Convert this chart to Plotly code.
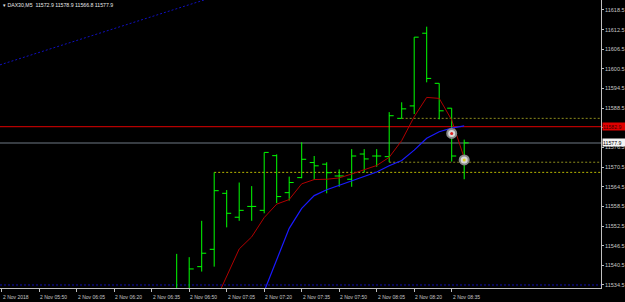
import plotly.graph_objects as go
import pandas as pd

# ---------------- data ----------------
symbol_header = "▾ DAX30,M5  11572.9 11578.9 11566.8 11577.9"
bar_times = list(pd.date_range("2018-11-02 06:45", periods=24, freq="5min"))
opens  = [11528.0, 11531.0, 11540.1, 11545.4, 11562.5, 11555.2, 11558.5, 11557.3,
          11574.0, 11562.7, 11567.3, 11571.9, 11571.4, 11567.8, 11566.8, 11574.5,
          11573.9, 11573.7, 11585.4, 11589.2, 11611.4, 11596.1, 11588.5, 11572.9]
highs  = [11544.0, 11543.0, 11554.1, 11568.9, 11563.5, 11565.8, 11564.7, 11575.0,
          11574.4, 11567.6, 11578.1, 11573.9, 11572.0, 11569.8, 11576.0, 11576.0,
          11576.0, 11587.3, 11590.3, 11610.2, 11613.4, 11596.1, 11588.5, 11578.9]
lows   = [11525.0, 11529.0, 11538.6, 11540.1, 11552.1, 11554.1, 11554.1, 11556.4,
          11559.5, 11560.3, 11567.1, 11566.6, 11562.5, 11564.5, 11564.5, 11568.9,
          11570.6, 11572.0, 11585.4, 11586.7, 11596.4, 11585.1, 11572.2, 11566.8]
closes = [11532.0, 11539.4, 11544.2, 11563.3, 11556.4, 11557.3, 11558.5, 11575.0,
          11561.5, 11565.8, 11572.9, 11570.9, 11568.8, 11567.8, 11573.9, 11573.0,
          11573.9, 11586.2, 11588.3, 11610.2, 11597.6, 11587.7, 11573.9, 11577.9]

# moving averages (values from bar index 2 / 6 onwards)
ma_red_start = 2
ma_red = [11520.5, 11528.9, 11537.3, 11545.5, 11549.2, 11555.1, 11559.2, 11560.6,
          11565.4, 11566.7, 11566.8, 11567.2, 11568.4, 11569.8, 11571.0, 11573.5,
          11578.6, 11585.9, 11591.8, 11591.5, 11584.9, 11573.3]
ma_blue_start = 6
ma_blue = [11523.0, 11532.7, 11542.1, 11551.8, 11557.9, 11561.8, 11563.6, 11564.9,
           11566.4, 11567.6, 11569.0, 11570.9, 11572.5, 11575.7, 11579.3, 11581.3,
           11582.4, 11583.1]

# horizontal levels
red_level = 11582.9
bid_price = 11577.9
blue_level = 11534.5
yellow_levels = [11568.9, 11572.0, 11585.4]
yellow_start_idx = [3, 17, 18]
yellow_colors = ["#b8b800", "#8c8c1c", "#8c8c1c"]

# trendline anchors
trend_times = ["2018-11-02 05:35", "2018-11-02 07:05"]
trend_prices = [11601.9, 11623.75]

# order markers
marker_idx = [22, 23]
marker_prices = [11580.8, 11572.7]
marker_dots = ["#e02020", "#e0d020"]

# axes
y_ticks = [11534.5 + 6 * k for k in range(15)]
y_hidden_tick = 11582.5   # covered by the red level label
x_label_times = list(pd.date_range("2018-11-02 05:35", "2018-11-02 08:35", freq="15min"))
x_label_texts = ["2 Nov 2018"] + [t.strftime("2 Nov %H:%M") for t in x_label_times[1:]]

# ---------------- figure ----------------
step = pd.Timedelta(minutes=5)
x0 = bar_times[0] - step * 14.136
x1 = bar_times[0] + step * 33.944
y_range = [11533.58, 11621.55]

fig = go.Figure()

fig.add_trace(go.Ohlc(
    x=bar_times, open=opens, high=highs, low=lows, close=closes,
    increasing=dict(line=dict(color="#00ff00", width=1)),
    decreasing=dict(line=dict(color="#00ff00", width=1)),
    tickwidth=0.36, hoverinfo="skip", showlegend=False,
))

fig.add_trace(go.Scatter(
    x=bar_times[ma_red_start:], y=ma_red, mode="lines",
    line=dict(color="#b00000", width=1), hoverinfo="skip", showlegend=False))
fig.add_trace(go.Scatter(
    x=bar_times[ma_blue_start:], y=ma_blue, mode="lines",
    line=dict(color="#1a1aff", width=1.2), hoverinfo="skip", showlegend=False))

# trendline (ray) – extend using anchors
tt = [pd.Timestamp(t) for t in trend_times]
slope = (trend_prices[1] - trend_prices[0]) / ((tt[1] - tt[0]) / step)
t_start = x0
t_end = tt[1] + step * 6
fig.add_trace(go.Scatter(
    x=[t_start, t_end],
    y=[trend_prices[0] + slope * ((t_start - tt[0]) / step),
       trend_prices[0] + slope * ((t_end - tt[0]) / step)],
    mode="lines", line=dict(color="#1010c0", width=1, dash="2px,2px"),
    hoverinfo="skip", showlegend=False))

shapes = []
shapes.append(dict(type="line", xref="x", yref="y", x0=x0, x1=x1, y0=red_level, y1=red_level,
                   line=dict(color="#b40000", width=1.3), layer="below"))
shapes.append(dict(type="line", xref="x", yref="y", x0=x0, x1=x1, y0=bid_price, y1=bid_price,
                   line=dict(color="#4a5058", width=1.5), layer="below"))
shapes.append(dict(type="line", xref="x", yref="y", x0=x0, x1=x1, y0=blue_level, y1=blue_level,
                   line=dict(color="#1010b0", width=1, dash="2px,2px"), layer="below"))
for lvl, si, col in zip(yellow_levels, yellow_start_idx, yellow_colors):
    shapes.append(dict(type="line", xref="x", yref="y", x0=bar_times[si], x1=x1, y0=lvl, y1=lvl,
                       line=dict(color=col, width=1, dash="2px,2px"), layer="below"))

mx = [bar_times[i] for i in marker_idx]
fig.add_trace(go.Scatter(
    x=mx, y=marker_prices, mode="markers",
    marker=dict(size=9, color="#d8d8d8", line=dict(color="#8a8a8a", width=2)),
    hoverinfo="skip", showlegend=False))
fig.add_trace(go.Scatter(
    x=mx, y=marker_prices, mode="markers",
    marker=dict(size=3, color=marker_dots),
    hoverinfo="skip", showlegend=False))

annotations = []
for t, txt in zip(x_label_times, x_label_texts):
    annotations.append(dict(xref="x", yref="paper", x=t, y=0, xanchor="left", yanchor="middle",
                            yshift=-8.5, xshift=-1, text=txt, showarrow=False,
                            font=dict(size=5, color="#c8c8c8", family="Liberation Sans")))
annotations.append(dict(xref="paper", yref="paper", x=0, y=1, xanchor="left", yanchor="middle",
                        yshift=-5, xshift=1, text=symbol_header, showarrow=False,
                        font=dict(size=5.2, color="#e8e8e8", family="Liberation Sans")))
annotations.append(dict(xref="paper", yref="y", x=1, y=red_level, xanchor="left", yanchor="middle",
                        text=f"{red_level:.1f}", showarrow=False, bgcolor="#e00000",
                        width=22, height=7, align="left", borderpad=0, xshift=1,
                        font=dict(size=5.2, color="#400000", family="Liberation Sans")))
annotations.append(dict(xref="paper", yref="y", x=1, y=bid_price, xanchor="left", yanchor="middle",
                        text=f"{bid_price:.1f}", showarrow=False, bgcolor="#f4f4f4",
                        width=22, height=7, align="left", borderpad=0, xshift=1,
                        font=dict(size=5.2, color="#000000", family="Liberation Sans")))

fig.update_layout(
    width=625, height=302,
    margin=dict(l=0, r=24, t=0, b=14),
    paper_bgcolor="#000000", plot_bgcolor="#000000",
    shapes=shapes, annotations=annotations,
    showlegend=False, hovermode=False,
    xaxis=dict(type="date", range=[x0, x1], showgrid=False, zeroline=False,
               showline=True, linecolor="#c0c0c0", linewidth=1,
               ticks="outside", ticklen=3, tickcolor="#c0c0c0", tickvals=x_label_times,
               showticklabels=False, rangeslider=dict(visible=False), fixedrange=True),
    yaxis=dict(side="right", range=y_range, showgrid=False, zeroline=False,
               showline=True, linecolor="#c0c0c0", linewidth=1,
               ticks="outside", ticklen=2, tickcolor="#c0c0c0",
               tickvals=y_ticks,
               ticktext=["" if v == y_hidden_tick else f"{v:.1f}" for v in y_ticks],
               tickfont=dict(size=5.5, color="#c8c8c8", family="Liberation Sans"),
               fixedrange=True),
)

fig.write_html("out.html")
